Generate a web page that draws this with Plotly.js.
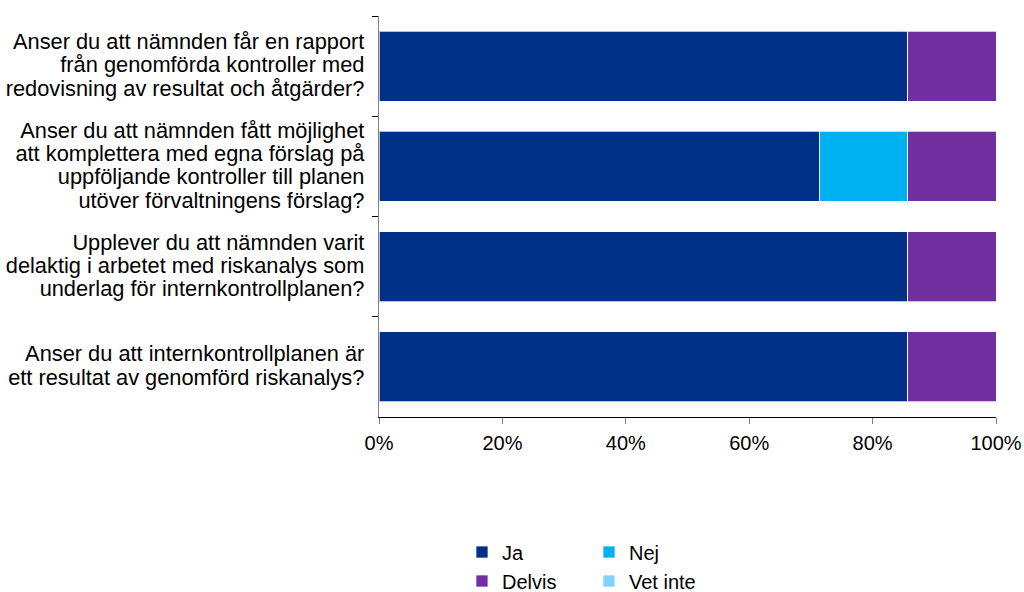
<!DOCTYPE html>
<html>
<head>
<meta charset="utf-8">
<script src="https://cdn.plot.ly/plotly-3.0.1.min.js"></script>
<style>html,body{margin:0;padding:0;background:#fff;}#chart{width:1024px;height:592px;}</style>
</head>
<body>
<div id="chart"></div>
<script>
const categoryLines = [
  ["Anser du att nämnden får en rapport", "från genomförda kontroller med", "redovisning av resultat och åtgärder?"],
  ["Anser du att nämnden fått möjlighet", "att komplettera med egna förslag på", "uppföljande kontroller till planen", "utöver förvaltningens förslag?"],
  ["Upplever du att nämnden varit", "delaktig i arbetet med riskanalys som", "underlag för internkontrollplanen?"],
  ["Anser du att internkontrollplanen är", "ett resultat av genomförd riskanalys?"]
];
const ja = [0.857, 0.714, 0.857, 0.857];
const nej = [0, 0.143, 0, 0];
const delvis = [0.143, 0.143, 0.143, 0.143];
const vetInte = [0, 0, 0, 0];
const seriesNames = ["Ja", "Nej", "Delvis", "Vet inte"];
const seriesColors = ["#003087", "#00B0F0", "#7030A0", "#7FD3FF"];
const seriesValues = [ja, nej, delvis, vetInte];
const legendGroups = ["legend", "legend", "legend2", "legend2"];
const tickValues = [0, 0.2, 0.4, 0.6, 0.8, 1];

// each line rendered a bit larger than the line-spacing base font
const categories = categoryLines.map(lines =>
  lines.map(l => '<span style="font-size:21.8px">' + l + '</span>').join('<br>')
);

const traces = seriesValues.map((vals, i) => ({
  type: "bar",
  orientation: "h",
  name: seriesNames[i],
  x: vals,
  y: categories,
  marker: { color: seriesColors[i], line: { color: "rgba(255,255,255,0.7)", width: 1 } },
  legend: legendGroups[i],
  hoverinfo: "x+name"
}));

const font = { family: "Liberation Sans, Arial, sans-serif", size: 20, color: "#000" };
const yFont = { family: "Liberation Sans, Arial, sans-serif", size: 18, color: "#000" };

const legendBase = {
  orientation: "h",
  xanchor: "left",
  yanchor: "middle",
  entrywidth: 82, entrywidthmode: "pixels",
  itemwidth: 30,
  font: font,
  traceorder: "normal",
  bgcolor: "rgba(0,0,0,0)"
};

const layout = {
  width: 1024, height: 592,
  margin: { l: 379, r: 28, t: 16, b: 175, autoexpand: false },
  barmode: "stack",
  bargap: 0.3,
  paper_bgcolor: "#fff",
  plot_bgcolor: "#fff",
  font: font,
  showlegend: true,
  xaxis: {
    range: [0, 1],
    tickformat: ".0%",
    tickvals: tickValues,
    showgrid: false,
    zeroline: false,
    showline: true,
    linecolor: "#000",
    linewidth: 1,
    ticks: "outside",
    ticklen: 6,
    tickcolor: "#808080",
    ticklabelstandoff: 2,
    tickfont: font,
    automargin: false,
    fixedrange: true
  },
  yaxis: {
    type: "category",
    autorange: "reversed",
    showgrid: false,
    zeroline: false,
    showline: true,
    linecolor: "#808080",
    linewidth: 1,
    ticks: "outside",
    tickson: "boundaries",
    ticklen: 6,
    tickcolor: "#000",
    ticklabelstandoff: 10,
    tickfont: yFont,
    automargin: false,
    fixedrange: true
  },
  legend: Object.assign({}, legendBase, { x: 0.1345, y: -0.3367 }),
  legend2: Object.assign({}, legendBase, { x: 0.1345, y: -0.409 })
};

Plotly.newPlot("chart", traces, layout, { displayModeBar: false, staticPlot: true });
</script>
</body>
</html>
